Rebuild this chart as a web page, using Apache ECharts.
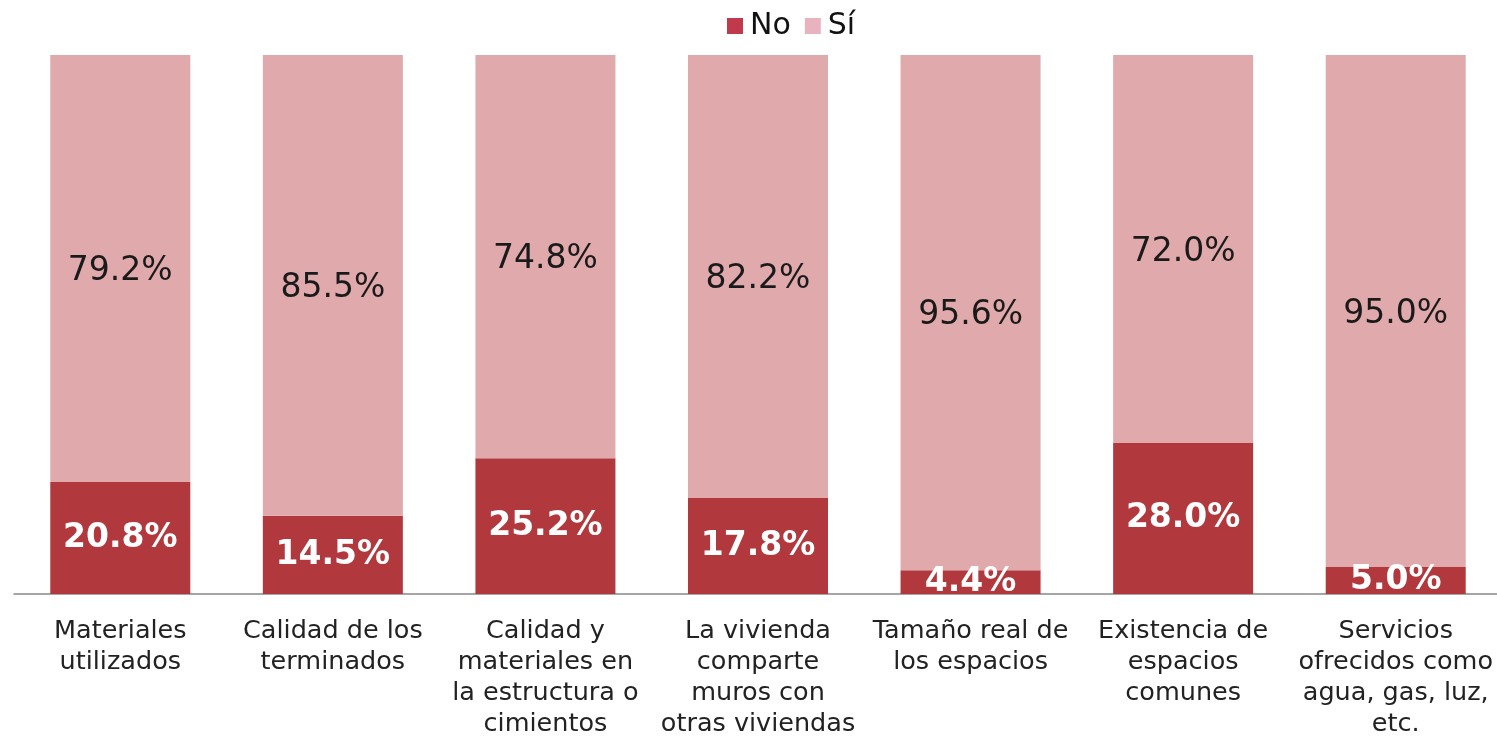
<!DOCTYPE html>
<html><head><meta charset="utf-8">
<script src="https://cdn.jsdelivr.net/npm/echarts@6/dist/echarts.min.js"></script>
<style>html,body{margin:0;padding:0;background:#fff}#c{width:1497px;height:736px}</style>
</head><body><div id="c"></div>
<script>
const categories = [
  "Materiales\nutilizados",
  "Calidad de los\nterminados",
  "Calidad y\nmateriales en\nla estructura o\ncimientos",
  "La vivienda\ncomparte\nmuros con\notras viviendas",
  "Tamaño real de\nlos espacios",
  "Existencia de\nespacios\ncomunes",
  "Servicios\nofrecidos como\nagua, gas, luz,\netc."
];
const noValues = [20.8, 14.5, 25.2, 17.8, 4.4, 28.0, 5.0];
const siValues = [79.2, 85.5, 74.8, 82.2, 95.6, 72.0, 95.0];

const chart = echarts.init(document.getElementById('c'));
const fmt = p => p.value.toFixed(1) + '%';
chart.setOption({
  animation: false,
  textStyle: {fontFamily: 'DejaVu Sans'},
  legend: {
    top: 6, left: 722, itemWidth: 16, itemHeight: 16, itemGap: 14,
    icon: 'rect',
    textStyle: {fontSize: 30, color: '#111', fontFamily: 'DejaVu Sans', padding: [0,0,0,2]},
    data: [{name:'No', itemStyle:{color:'#C03A4B'}}, {name:'Sí', itemStyle:{color:'#E8B3BE'}}]
  },
  grid: {left: 14, width: 1488, top: 55, bottom: 142, containLabel: false, outerBoundsMode: 'none'},
  xAxis: {
    type: 'category', data: categories,
    axisLine: {lineStyle: {color: '#888', width: 1.5}},
    axisTick: {show: false},
    axisLabel: {fontSize: 25.5, color: '#222', lineHeight: 31, margin: 22, interval: 0, fontFamily: 'DejaVu Sans'}
  },
  yAxis: {type: 'value', min: 0, max: 100, show: false, splitLine: {show: false}},
  series: [
    {name: 'No', type: 'bar', stack: 't', data: noValues, barWidth: 140,
     itemStyle: {color: '#B1393E'},
     label: {show: true, position: 'inside', formatter: fmt, color: '#fff', fontWeight: 'bold', fontSize: 33, fontFamily: 'DejaVu Sans'}},
    {name: 'Sí', type: 'bar', stack: 't', data: siValues, barWidth: 140,
     itemStyle: {color: '#E0A9AC'},
     label: {show: true, position: 'inside', offset: [0, 3], formatter: fmt, color: '#1a1a1a', fontSize: 33, fontFamily: 'DejaVu Sans'}}
  ]
});
</script></body></html>
